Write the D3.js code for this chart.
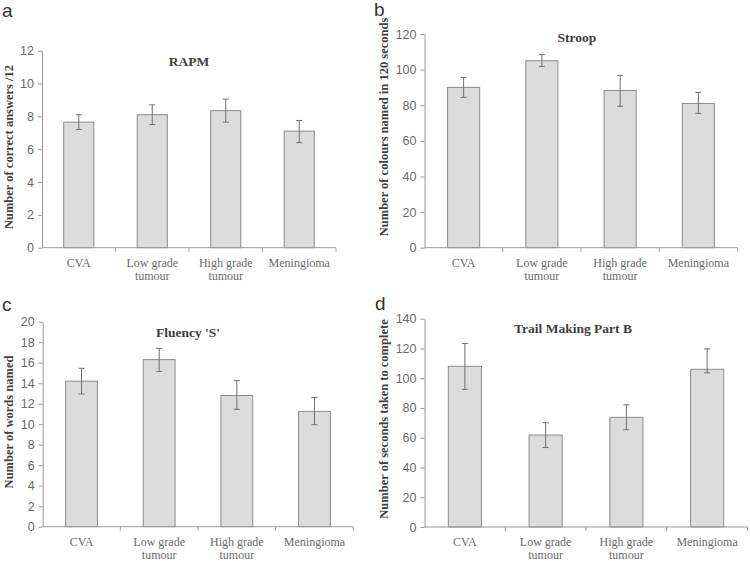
<!DOCTYPE html>
<html>
<head>
<meta charset="utf-8">
<script src="https://cdn.jsdelivr.net/npm/d3@7"></script>
<style>
  body { margin: 0; background: #fff; }
  svg { display: block; }
</style>
</head>
<body>
<script>
//group names shared by all four panels
var groups = ["CVA", "Low grade|tumour", "High grade|tumour", "Meningioma"];

//panel a - RAPM
var rapmMean = [7.65, 8.1, 8.35, 7.1];
var rapmLow  = [7.2, 7.5, 7.65, 6.4];
var rapmHigh = [8.1, 8.7, 9.05, 7.75];
var rapmTicks = [0, 2, 4, 6, 8, 10, 12];

//panel b - Stroop
var stroopMean = [90, 105, 88.3, 81];
var stroopLow  = [84.4, 101.8, 79.4, 75.4];
var stroopHigh = [95.6, 108.4, 96.8, 87.2];
var stroopTicks = [0, 20, 40, 60, 80, 100, 120];

//panel c - Fluency 'S'
var fluencyMean = [14.2, 16.3, 12.8, 11.25];
var fluencyLow  = [12.95, 15.15, 11.45, 9.95];
var fluencyHigh = [15.45, 17.4, 14.25, 12.6];
var fluencyTicks = [0, 2, 4, 6, 8, 10, 12, 14, 16, 18, 20];

//panel d - Trail Making Part B
var trailMean = [108, 61.8, 73.7, 106];
var trailLow  = [92.5, 53.4, 65.4, 103.6];
var trailHigh = [123.3, 70.1, 82.1, 119.7];
var trailTicks = [0, 20, 40, 60, 80, 100, 120, 140];

var width = 750;
var height = 561;

var svg = d3.select("body")
            .append("svg")
            .attr("width", width)
            .attr("height", height);

var serif = "'Liberation Serif', 'Times New Roman', serif";
var sans = "'Liberation Sans', Arial, sans-serif";

drawPanel({
  letter: "a", letterX: 2, letterY: 17,
  title: "RAPM", titleX: 189, titleY: 66,
  ylabel: "Number of correct answers /12", ylabelX: 13, ylabelY: 147,
  x0: 42, x1: 336, yTop: 50.7, yBottom: 247.7,
  mean: rapmMean, low: rapmLow, high: rapmHigh, ticks: rapmTicks
});

drawPanel({
  letter: "b", letterX: 374, letterY: 16,
  title: "Stroop", titleX: 577, titleY: 42,
  ylabel: "Number of colours named in 120 seconds", ylabelX: 388, ylabelY: 127,
  x0: 424.5, x1: 737.5, yTop: 34, yBottom: 247.7,
  mean: stroopMean, low: stroopLow, high: stroopHigh, ticks: stroopTicks
});

drawPanel({
  letter: "c", letterX: 2, letterY: 311,
  title: "Fluency 'S'", titleX: 188, titleY: 337,
  ylabel: "Number of words named", ylabelX: 13, ylabelY: 422,
  x0: 42.7, x1: 353.3, yTop: 321.7, yBottom: 526.7,
  mean: fluencyMean, low: fluencyLow, high: fluencyHigh, ticks: fluencyTicks
});

drawPanel({
  letter: "d", letterX: 375, letterY: 310,
  title: "Trail Making Part B", titleX: 573, titleY: 333,
  ylabel: "Number of seconds taken to complete", ylabelX: 388, ylabelY: 419,
  x0: 424.5, x1: 747.5, yTop: 318.7, yBottom: 527,
  mean: trailMean, low: trailLow, high: trailHigh, ticks: trailTicks
});

function drawPanel(p) {

  var x = d3.scaleBand()
            .domain(groups)
            .range([p.x0, p.x1])
            .padding(0);

  var y = d3.scaleLinear()
            .domain([0, d3.max(p.ticks)])
            .range([p.yBottom, p.yTop]);

  var g = svg.append("g");

  //bars
  var barW = x.bandwidth() * 0.41;
  g.selectAll(".bar")
    .data(p.mean)
    .enter().append("rect")
      .attr("class", "bar")
      .attr("x", function(d, i) { return x(groups[i]) + (x.bandwidth() - barW) / 2; })
      .attr("y", function(d) { return y(d); })
      .attr("width", barW)
      .attr("height", function(d) { return y(0) - y(d); })
      .style("fill", "#dcdcdc")
      .style("stroke", "#8c8c8c")
      .style("stroke-width", 1);

  //error bars
  var cap = 3;
  var err = g.selectAll(".err")
    .data(p.mean)
    .enter().append("g")
      .attr("class", "err")
      .style("stroke", "#707070")
      .style("stroke-width", 1);

  err.append("line")
    .attr("x1", function(d, i) { return x(groups[i]) + x.bandwidth() / 2; })
    .attr("x2", function(d, i) { return x(groups[i]) + x.bandwidth() / 2; })
    .attr("y1", function(d, i) { return y(p.low[i]); })
    .attr("y2", function(d, i) { return y(p.high[i]); });

  err.append("line")
    .attr("x1", function(d, i) { return x(groups[i]) + x.bandwidth() / 2 - cap; })
    .attr("x2", function(d, i) { return x(groups[i]) + x.bandwidth() / 2 + cap; })
    .attr("y1", function(d, i) { return y(p.low[i]); })
    .attr("y2", function(d, i) { return y(p.low[i]); });

  err.append("line")
    .attr("x1", function(d, i) { return x(groups[i]) + x.bandwidth() / 2 - cap; })
    .attr("x2", function(d, i) { return x(groups[i]) + x.bandwidth() / 2 + cap; })
    .attr("y1", function(d, i) { return y(p.high[i]); })
    .attr("y2", function(d, i) { return y(p.high[i]); });

  //y axis
  var yAxis = g.append("g")
    .attr("transform", "translate(" + p.x0 + ",0)")
    .call(d3.axisLeft(y).tickValues(p.ticks).tickSizeInner(4).tickSizeOuter(0).tickPadding(4));
  yAxis.select(".domain").style("stroke", "#999");
  yAxis.selectAll(".tick line").style("stroke", "#999");
  yAxis.selectAll(".tick text")
    .style("font-family", sans)
    .style("font-size", "12.5px")
    .style("fill", "#6a6a6a");

  //x axis with ticks on the band edges
  var xAxis = g.append("g")
    .attr("transform", "translate(0," + p.yBottom + ")");
  xAxis.append("line")
    .attr("x1", p.x0).attr("x2", p.x1)
    .style("stroke", "#999");
  var edges = groups.map(function(d) { return x(d) + x.bandwidth(); });
  xAxis.selectAll(".xtick")
    .data(edges)
    .enter().append("line")
      .attr("class", "xtick")
      .attr("x1", function(d) { return d; })
      .attr("x2", function(d) { return d; })
      .attr("y1", 0).attr("y2", 4)
      .style("stroke", "#999");

  var labels = xAxis.selectAll(".xlab")
    .data(groups)
    .enter().append("text")
      .attr("class", "xlab")
      .attr("text-anchor", "middle")
      .style("font-family", serif)
      .style("font-size", "12px")
      .style("fill", "#6a6a6a");
  labels.selectAll("tspan")
    .data(function(d) { return d.split("|"); })
    .enter().append("tspan")
      .attr("x", function() { return x(this.parentNode.__data__) + x.bandwidth() / 2; })
      .attr("y", function(d, i) { return 19 + i * 13; })
      .text(function(d) { return d; });

  //chart title
  g.append("text")
    .attr("x", p.titleX)
    .attr("y", p.titleY)
    .attr("text-anchor", "middle")
    .style("font-family", serif)
    .style("font-weight", "bold")
    .style("font-size", "13.5px")
    .style("fill", "#404040")
    .text(p.title);

  //y axis title
  g.append("text")
    .attr("transform", "translate(" + p.ylabelX + "," + p.ylabelY + ") rotate(-90)")
    .attr("text-anchor", "middle")
    .style("font-family", serif)
    .style("font-weight", "bold")
    .style("font-size", "12.5px")
    .style("fill", "#404040")
    .text(p.ylabel);

  //panel letter
  g.append("text")
    .attr("x", p.letterX)
    .attr("y", p.letterY)
    .style("font-family", sans)
    .style("font-size", "19px")
    .style("fill", "#333")
    .text(p.letter);
}
</script>
</body>
</html>
